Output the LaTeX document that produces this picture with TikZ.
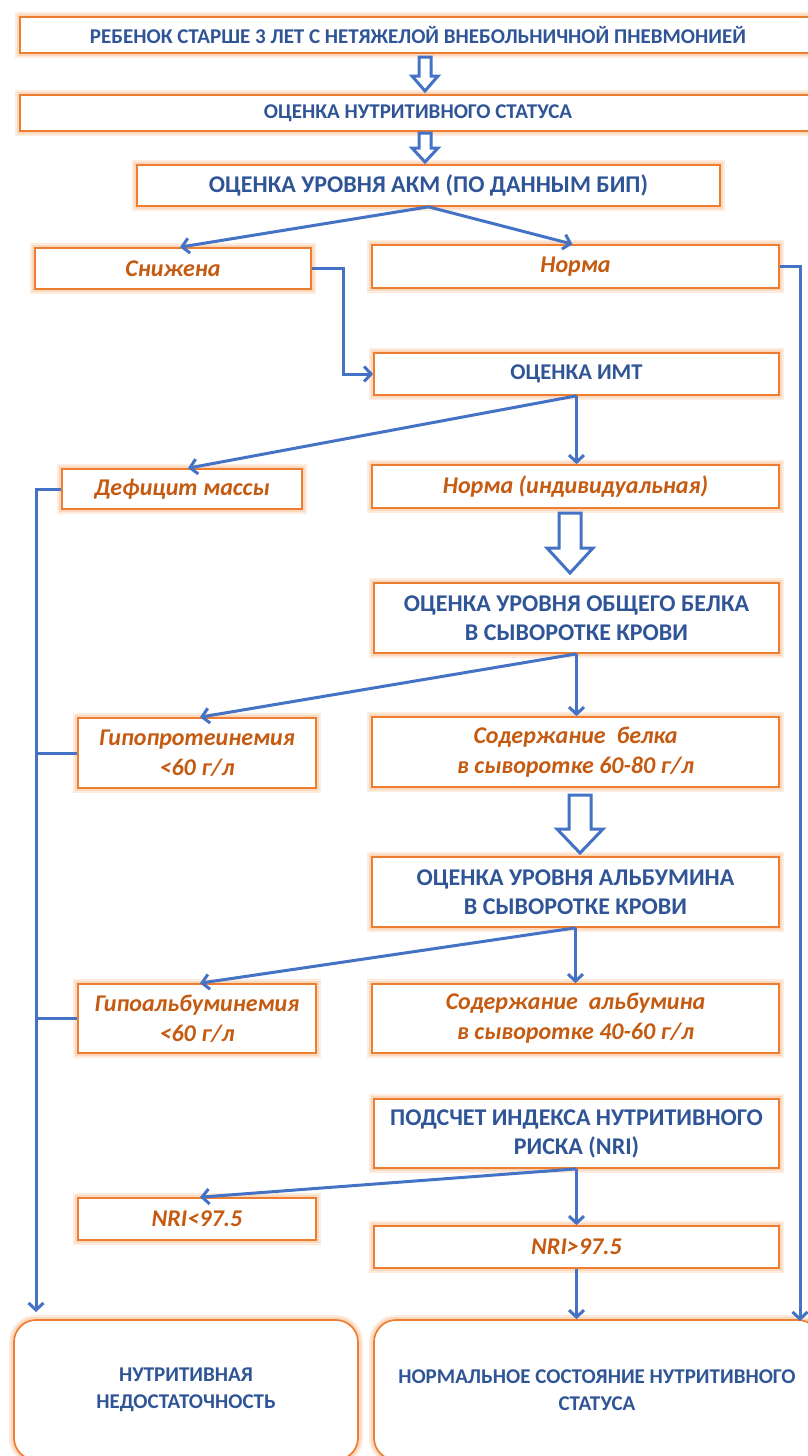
\documentclass[tikz,border=0pt]{standalone}
\usepackage{fontspec}
\setmainfont{Carlito}
\usetikzlibrary{arrows.meta,calc}
\definecolor{bluetxt}{HTML}{2F5597}
\definecolor{orangetxt}{HTML}{C55A11}
\definecolor{boxorange}{HTML}{ED7D31}
\definecolor{glowc}{HTML}{FBD9BE}
\definecolor{glowd}{HTML}{FDEBDD}
\definecolor{linkblue}{HTML}{4472C4}
\tikzset{
  box/.style={draw=boxorange, line width=1.7pt, fill=white,
    preaction={draw=glowd, line width=10pt},
    preaction={draw=glowc, line width=6pt}, inner sep=0pt, align=center},
  bluebox/.style={box, font=\bfseries\fontsize{21}{29}\selectfont, text=bluetxt},
  bigblue/.style={box, font=\bfseries\fontsize{24}{29}\selectfont, text=bluetxt},
  orbox/.style={box, font=\bfseries\itshape\fontsize{24}{30}\selectfont, text=orangetxt},
  endbox/.style={box, rounded corners=22pt, font=\bfseries\fontsize{21}{27}\selectfont, text=bluetxt},
  link/.style={draw=linkblue, line width=3pt, -{Straight Barb[length=7pt,width=15pt]}},
  plainlink/.style={draw=linkblue, line width=3pt},
  hollow/.style={draw=linkblue, line width=3pt, fill=white, line join=miter},
}
\newcommand{\harrow}[6]{%
  \draw[hollow] (#1-#4,#2) -- (#1+#4,#2) -- (#1+#4,#3-#6) -- (#1+#5,#3-#6) -- (#1,#3) -- (#1-#5,#3-#6) -- (#1-#4,#3-#6) -- cycle;}
\begin{document}
\begin{tikzpicture}[x=1pt,y=-1pt]
\useasboundingbox (0,0) rectangle (808,1456);
\fill[white] (0,0) rectangle (808,1456);

\node[bluebox, minimum width=796pt, minimum height=36pt] (b1) at (418,35) {РЕБЕНОК СТАРШЕ 3 ЛЕТ С НЕТЯЖЕЛОЙ ВНЕБОЛЬНИЧНОЙ ПНЕВМОНИЕЙ};
\node[bluebox, minimum width=796pt, minimum height=36pt] (b2) at (418,113) {ОЦЕНКА НУТРИТИВНОГО СТАТУСА};
\node[bigblue, minimum width=583pt, minimum height=41pt] (b3) at (428.5,185.5) {ОЦЕНКА УРОВНЯ АКМ (ПО ДАННЫМ БИП)};

\node[orbox, minimum width=276pt, minimum height=41pt] (snizh) at (173,268.5) {Снижена};
\node[orbox, minimum width=407pt, minimum height=43pt] (norma) at (575.5,266.5) {Норма};

\node[bigblue, font=\bfseries\fontsize{22.5}{29}\selectfont, minimum width=405pt, minimum height=42pt] (imt) at (576.5,374) {ОЦЕНКА ИМТ};

\node[orbox, minimum width=240pt, minimum height=40pt] (def) at (182,489) {Дефицит массы};
\node[orbox, minimum width=407pt, minimum height=43pt] (normind) at (575.5,486.5) {Норма (индивидуальная)};

\node[bigblue, minimum width=405pt, minimum height=70pt] (belok) at (576.5,618) {ОЦЕНКА УРОВНЯ ОБЩЕГО БЕЛКА\\В СЫВОРОТКЕ КРОВИ};

\node[orbox, minimum width=238pt, minimum height=70pt] (hprot) at (197,753) {Гипопротеинемия\\<60 г/л};
\node[orbox, minimum width=407pt, minimum height=70pt] (sodbel) at (575.5,752) {Содержание\ \ белка\\в сыворотке 60-80 г/л};

\node[bigblue, minimum width=407pt, minimum height=70pt] (alb) at (575.5,892) {ОЦЕНКА УРОВНЯ АЛЬБУМИНА\\В СЫВОРОТКЕ КРОВИ};

\node[orbox, minimum width=238pt, minimum height=69pt] (halb) at (197,1018.5) {Гипоальбуминемия\\<60 г/л};
\node[orbox, minimum width=407pt, minimum height=69pt] (sodalb) at (575.5,1018.5) {Содержание\ \ альбумина\\в сыворотке 40-60 г/л};

\node[bigblue, minimum width=405pt, minimum height=69pt] (nri) at (576.5,1133.5) {ПОДСЧЕТ ИНДЕКСА НУТРИТИВНОГО\\РИСКА (NRI)};

\node[orbox, minimum width=238pt, minimum height=42pt] (nrilow) at (197,1219) {NRI<97.5};
\node[orbox, minimum width=405pt, minimum height=42pt] (nrihigh) at (576.5,1247) {NRI>97.5};

\node[endbox, minimum width=344pt, minimum height=140pt] (resL) at (186,1390) {НУТРИТИВНАЯ\\НЕДОСТАТОЧНОСТЬ};
\node[endbox, minimum width=446pt, minimum height=140pt] (resR) at (597,1390) {НОРМАЛЬНОЕ СОСТОЯНИЕ НУТРИТИВНОГО\\СТАТУСА};

% hollow arrows
\harrow{425}{57}{91}{6}{13}{15}
\harrow{425}{133}{162}{6}{13}{14}
\harrow{570}{513}{573}{11}{23}{25}
\harrow{580}{795}{853}{11}{23}{24}

% connectors
\draw[link] (b3.south) -- ($(snizh.north)+(7,0)$);
\draw[link] (b3.south) -- ($(norma.north)+(-3,0)$);
\draw[link] (snizh.east) -- ++(32,0) |- (imt.west);
\coordinate (rt) at (800,1321);
\draw[link] (norma.east) -| (rt);

\draw[link] (imt.south) -- ($(def.north)+(6,0)$);
\draw[link] (imt.south) -- (imt.south |- normind.north);

\coordinate (lt) at (36,1312);
\draw[link] (def.west) -| (lt);

\draw[link] (belok.south) -- ($(hprot.north)+(3,0)$);
\draw[link] (belok.south) -- (belok.south |- sodbel.north);
\draw[plainlink] (hprot.west) -- (hprot.west -| lt);

\draw[link] (alb.south) -- ($(halb.north)+(3,0)$);
\draw[link] (alb.south) -- (alb.south |- sodalb.north);
\draw[plainlink] (halb.west) -- (halb.west -| lt);

\draw[link] (nri.south) -- ($(nrilow.north)+(3,0)$);
\draw[link] (nri.south) -- (nri.south |- nrihigh.north);
\draw[plainlink] ($(nrilow.west)+(0,7)$) -- ($(nrilow.west)+(0,7)$ -| lt);

\draw[link] (nrihigh.south) -- (nrihigh.south |- resR.north);
\end{tikzpicture}
\end{document}
